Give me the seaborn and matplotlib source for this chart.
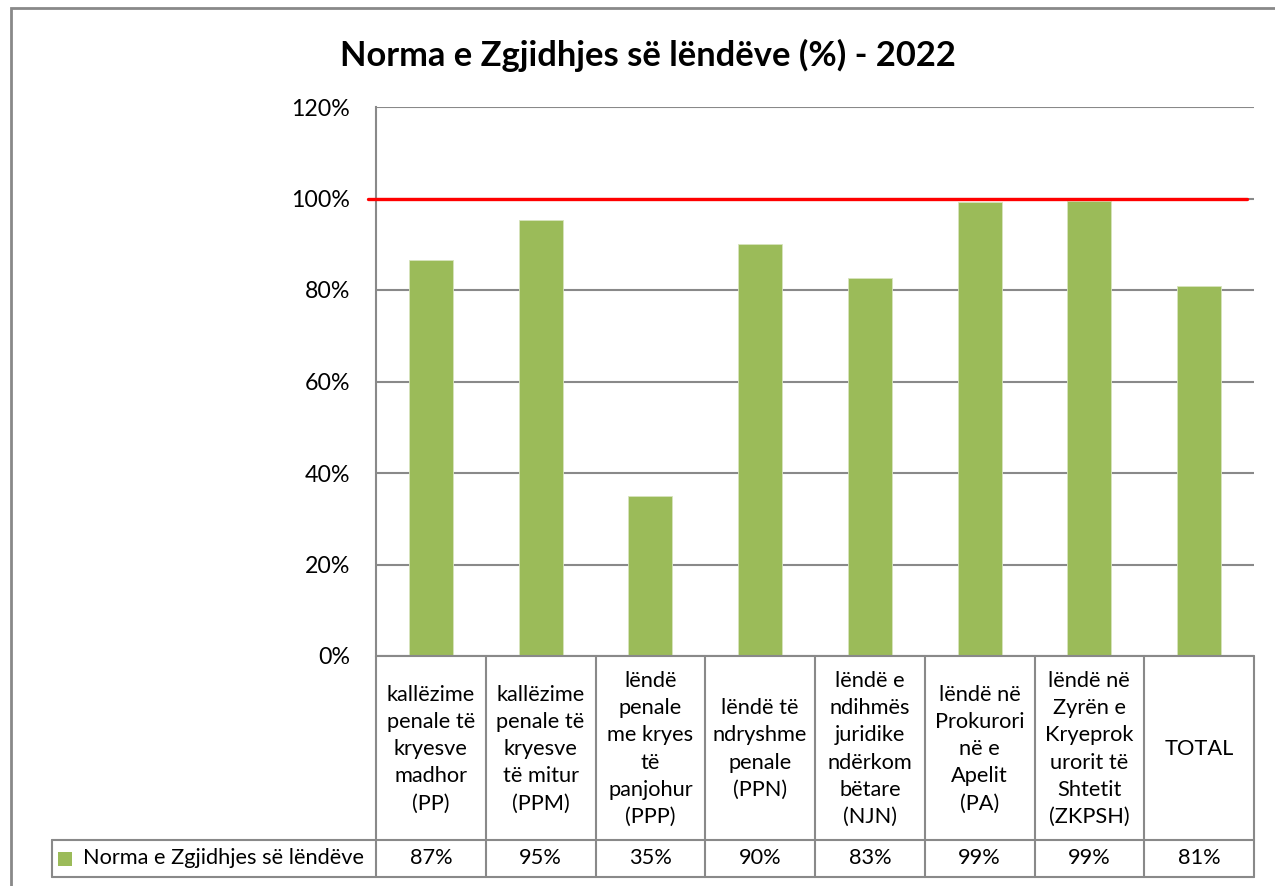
import matplotlib
matplotlib.use("Agg")
import matplotlib.pyplot as plt
from matplotlib.patches import Rectangle
import seaborn as sns
import pandas as pd

categories = [
    "kallëzime\npenale të\nkryesve\nmadhor\n(PP)",
    "kallëzime\npenale të\nkryesve\ntë mitur\n(PPM)",
    "lëndë\npenale\nme kryes\ntë\npanjohur\n(PPP)",
    "lëndë të\nndryshme\npenale\n(PPN)",
    "lëndë e\nndihmës\njuridike\nndërkom\nbëtare\n(NJN)",
    "lëndë në\nProkurori\nnë e\nApelit\n(PA)",
    "lëndë në\nZyrën e\nKryeprok\nurorit të\nShtetit\n(ZKPSH)",
    "TOTAL",
]
values = [86.6, 95.3, 35.0, 90.0, 82.6, 99.2, 99.5, 80.9]
value_labels = ["87%", "95%", "35%", "90%", "83%", "99%", "99%", "81%"]
series_name = "Norma e Zgjidhjes së lëndëve"
title = "Norma e Zgjidhjes së lëndëve (%) - 2022"
target = 100
yticks = [0, 20, 40, 60, 80, 100, 120]
ytick_labels = ["0%", "20%", "40%", "60%", "80%", "100%", "120%"]

GREEN = "#9BBB59"
GRID = "#898989"
FONT = "Lato"

sns.set_theme(style="white")
plt.rcParams["font.family"] = [FONT, "DejaVu Sans"]

W, H = 1275, 886
fig = plt.figure(figsize=(W / 100, H / 100), dpi=100)

def rect(x0, y0, x1, y1):
    return [x0 / W, 1 - y1 / H, (x1 - x0) / W, (y1 - y0) / H]

# outer chart border
fig.patches.append(Rectangle((11 / W, -0.01), 1.05, 1 - 8 / H + 0.01, transform=fig.transFigure,
                             fill=False, edgecolor=GRID, linewidth=2.0))

ax_l, ax_r, ax_t, ax_b = 376, 1254, 107, 656
ax = fig.add_axes(rect(ax_l, ax_t, ax_r, ax_b))

df = pd.DataFrame({"cat": categories, "val": values})
sns.barplot(data=df, x="cat", y="val", color=GREEN, width=0.4, saturation=1, ax=ax, zorder=3)
for p in ax.patches:
    p.set_edgecolor("#D7E4BD")
    p.set_linewidth(0.6)

ax.set_ylim(0, 120)
ax.set_xlim(-0.5, len(categories) - 0.5)
ax.set_yticks(yticks)
ax.set_yticklabels(ytick_labels, fontsize=16.7, color="black")
ax.tick_params(axis="y", length=0, pad=18.5)
ax.set_xticks([])
ax.set_xlabel("")
ax.set_ylabel("")
for y in yticks:
    ax.axhline(y, color=GRID, linewidth=1.5, zorder=1)
for s in ["top", "right", "bottom"]:
    ax.spines[s].set_visible(False)
ax.spines["left"].set_color(GRID)
ax.spines["left"].set_linewidth(1.5)

# target line
ax.axhline(target, xmin=-8 / (ax_r - ax_l), xmax=(1247 - ax_l) / (ax_r - ax_l),
           color="#FF0000", linewidth=2.4, zorder=4, clip_on=False)

fig.text(648 / W, 1 - 55 / H, title, ha="center", va="center", fontsize=24.8,
         fontweight="bold", color="black")

# data table
tbl_left, tbl_bottom = 52, 877
unit = (ax_r - ax_l) / len(categories)
x_left = -0.5 - (ax_l - tbl_left) / unit
tax = fig.add_axes(rect(tbl_left, ax_b, ax_r, tbl_bottom))
tax.set_xlim(x_left, len(categories) - 0.5)
tax.set_ylim(tbl_bottom - ax_b, 0)
tax.axis("off")
row_split = 840 - ax_b
tot = tbl_bottom - ax_b
lw = 1.5
for i in range(len(categories) + 1):
    tax.plot([i - 0.5, i - 0.5], [0, tot], color=GRID, linewidth=lw, clip_on=False)
tax.plot([x_left, x_left], [row_split, tot], color=GRID, linewidth=lw, clip_on=False)
tax.plot([x_left, len(categories) - 0.5], [row_split, row_split], color=GRID, linewidth=lw, clip_on=False)
tax.plot([x_left, len(categories) - 0.5], [tot, tot], color=GRID, linewidth=lw, clip_on=False)
tax.plot([-0.5, len(categories) - 0.5], [0, 0], color=GRID, linewidth=lw, clip_on=False)

FS = 15.7
for i, (c, v) in enumerate(zip(categories, value_labels)):
    tax.text(i, row_split / 2 + 1, c, ha="center", va="center", fontsize=FS,
             linespacing=1.45, color="black")
    tax.text(i, (row_split + tot) / 2, v, ha="center", va="center", fontsize=FS, color="black")

sq = 14 / unit
tax.add_patch(Rectangle((x_left + 6 / unit, (row_split + tot) / 2 - 7), sq, 14,
                        facecolor=GREEN, edgecolor="none", clip_on=False))
tax.text(x_left + 31 / unit, (row_split + tot) / 2, series_name, ha="left", va="center",
         fontsize=FS, color="black")

fig.savefig("out.png", dpi=100, facecolor="white")
